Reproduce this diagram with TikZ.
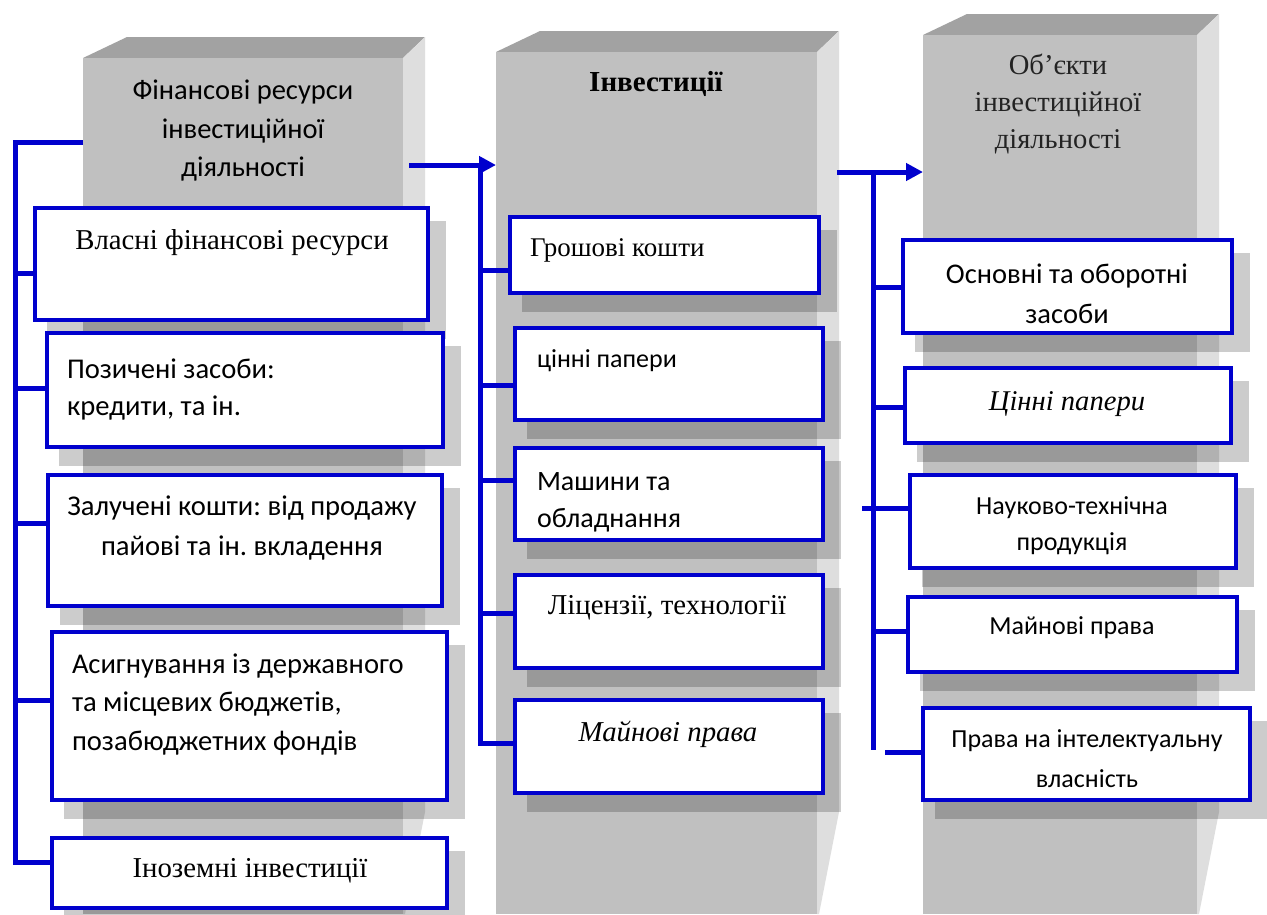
\documentclass[tikz,border=0pt]{standalone}
\usepackage{fontspec}
\setmainfont{Liberation Serif}
\newfontfamily\sansf{Carlito}
\usetikzlibrary{arrows.meta}
\definecolor{bl}{RGB}{0,0,205}
\definecolor{pfront}{RGB}{192,192,192}
\definecolor{ptop}{RGB}{162,162,162}
\definecolor{pside}{RGB}{222,222,222}
\newcommand\sz[2]{\fontsize{#1}{#2}\selectfont}
\newcommand\pillar[4]{%
  \fill[ptop] (#2,#4) -- ({#2+44},{#4-21}) -- ({#3+22},{#4-21}) -- (#3,#4) -- cycle;
  \fill[pside] (#3,#4) -- ({#3+22},{#4-21}) -- ({#3+22},812) -- ({#3+2},914) -- (#3,914) -- cycle;
  \node[fill=pfront, inner sep=0pt, outer sep=0pt, minimum width={(#3-#2)*1pt}, minimum height={(914-#4)*1pt}] (#1) at ({(#2+#3)/2},{(#4+914)/2}) {};
}
\newcommand\bx[5]{%
  \fill[shad] ({#2+12},{#3+13}) rectangle ({#4+18},{#5+19});
  \node[boxst, minimum width={(#4-#2)*1pt}, minimum height={(#5-#3)*1pt}] (#1) at ({(#2+#4)/2},{(#3+#5)/2}) {};
}
\begin{document}
\frenchspacing
\begin{tikzpicture}[x=1pt,y=-1pt,
  boxst/.style={draw=bl, line width=4.5pt, fill=white, inner sep=0pt, outer sep=0pt},
  shad/.style={fill=black, fill opacity=0.2},
  conn/.style={draw=bl, line width=5pt, line join=miter},
  arr/.style={conn, -{Triangle[length=17pt,width=17pt]}},
  txt/.style={inner sep=0pt, outer sep=0pt, text=black},
  sanst/.style={txt, font=\sansf\sz{28.6}{37}},
  serst/.style={txt, font=\sz{28.8}{37}}]
\useasboundingbox (0,0) rectangle (1267,914);
\fill[white] (0,0) rectangle (1267,914);
% pillars
\pillar{p1}{83}{403}{58}
\pillar{p2}{496}{817}{52}
\pillar{p3}{923}{1197}{35}
% headers
\node[txt, align=center, font=\sansf\sz{28.5}{38.5}] (h1) at (243,131) {Фінансові ресурси\\інвестиційної\\діяльності};
\node[txt, font=\bfseries\sz{29}{32}] (h2) at (656,84) {Інвестиції};
\node[txt, align=center, font=\sz{28.6}{37}, text={rgb,255:red,35;green,35;blue,35}] (h3) at (1058,104) {Об'єкти\\інвестиційної\\діяльності};
% left boxes
\bx{L1}{35}{208}{428}{320}
\bx{L2}{47}{333}{443}{447}
\bx{L3}{48}{475}{442}{606}
\bx{L4}{52}{632}{447}{800}
\bx{L5}{52}{838}{447}{908}
% middle boxes
\bx{M1}{510}{217}{819}{293}
\bx{M2}{515}{328}{823}{420}
\bx{M3}{515}{448}{823}{540}
\bx{M4}{515}{575}{823}{668}
\bx{M5}{515}{700}{823}{793}
% right boxes
\bx{R1}{903}{240}{1232}{333}
\bx{R2}{905}{368}{1231}{443}
\bx{R3}{910}{475}{1236}{568}
\bx{R4}{908}{597}{1237}{672}
\bx{R5}{923}{708}{1250}{800}
% texts
\node[serst] (tL1) at (232,243) {Власні фінансові ресурси};
\node[sanst, align=left, anchor=west] (tL2) at (67,389) {Позичені засоби:\\кредити, та ін.};
\node[sanst, align=center, font=\sansf\sz{28.6}{40}] (tL3) at (242,528) {Залучені кошти: від продажу\\пайові та ін. вкладення};
\node[sanst, align=left, anchor=west, font=\sansf\sz{28.6}{38.5}] (tL4) at (72,704) {Асигнування із державного\\та місцевих бюджетів,\\позабюджетних фондів};
\node[serst] (tL5) at (250,871) {Іноземні інвестиції};
\node[serst, font=\sz{27}{30}, anchor=west] (tM1) at (530,250) {Грошові кошти};
\node[sanst, font=\sansf\sz{26}{30}, anchor=west] (tM2) at (537,361) {цінні папери};
\node[sanst, align=left, anchor=west, font=\sansf\sz{28}{37}] (tM3) at (537,502) {Машини та\\обладнання};
\node[serst] (tM4) at (667,608) {Ліцензії, технології};
\node[serst, font=\itshape\sz{28.8}{32}] (tM5) at (668,734) {Майнові права};
\node[sanst, align=center, font=\sansf\sz{28.5}{40}] (tR1) at (1067,294) {Основні та оборотні\\засоби};
\node[serst, font=\itshape\sz{28.6}{32}] (tR2) at (1067,404) {Цінні папери};
\node[sanst, align=center, font=\sansf\sz{26}{36}] (tR3) at (1072,526) {Науково-технічна\\продукція};
\node[sanst, font=\sansf\sz{26}{30}] (tR4) at (1072,628) {Майнові права};
\node[sanst, align=center, font=\sansf\sz{26}{40}] (tR5) at (1087,759) {Права на інтелектуальну\\власність};
% left connectors
\coordinate (lt) at (15,142);
\coordinate (lb) at (15,862);
\draw[conn] (p1.west |- lt) -- (lt) -- (lb) -- (L5.west |- lb);
\draw[conn] (lt |- 0,273) -- (L1.west |- 0,273);
\draw[conn] (lt |- 0,388) -- (L2.west |- 0,388);
\draw[conn] (lt |- 0,523) -- (L3.west |- 0,523);
\draw[conn] (lt |- 0,700) -- (L4.west |- 0,700);
% middle connectors
\coordinate (a1) at (480,165);
\coordinate (m1) at (480,743);
\draw[arr] ([xshift=6pt]p1.east |- a1) -- (p2.west |- a1);
\draw[conn] (a1) -- (m1) -- (M5.west |- m1);
\draw[conn] (a1 |- 0,270) -- (M1.west |- 0,270);
\draw[conn] (a1 |- 0,385) -- (M2.west |- 0,385);
\draw[conn] (a1 |- 0,480) -- (M3.west |- 0,480);
\draw[conn] (a1 |- 0,613) -- (M4.west |- 0,613);
% right connectors
\coordinate (a2) at (873,172);
\coordinate (r1) at (873,750);
\draw[arr] ([xshift=20pt]p2.east |- a2) -- (p3.west |- a2);
\draw[conn] (a2) -- (r1);
\draw[conn] (a2 |- 0,287) -- (R1.west |- 0,287);
\draw[conn] (a2 |- 0,407) -- (R2.west |- 0,407);
\draw[conn] (862,508) -- (R3.west |- 0,508);
\draw[conn] (a2 |- 0,631) -- (R4.west |- 0,631);
\draw[conn] (885,752) -- (R5.west |- 0,752);
\end{tikzpicture}
\end{document}
